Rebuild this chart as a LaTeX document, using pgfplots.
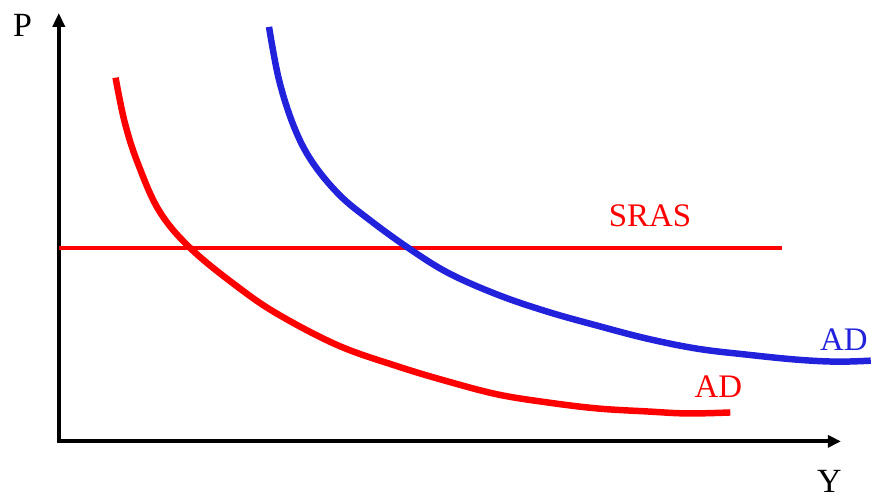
\documentclass[border=0pt]{standalone}
\usepackage{fontspec}
\setmainfont{Liberation Serif}
\usepackage{pgfplots}
\pgfplotsset{compat=1.18}
\usetikzlibrary{arrows.meta}
\definecolor{adblue}{RGB}{34,34,221}
\definecolor{adred}{RGB}{255,0,0}

\begin{document}
\begin{tikzpicture}
\begin{axis}[
    scale only axis,
    width=874pt, height=502pt,
    xmin=0, xmax=874, ymin=0, ymax=502,
    y dir=reverse,
    hide axis, clip=false,
]
% frame for bounding box
\addplot[draw=none] coordinates {(0,0) (874,502)};

% axes
\addplot[black, line width=4pt, -{Triangle[length=14pt,width=12pt]}] coordinates {(59,443) (59,13)};
\addplot[black, line width=4pt, -{Triangle[length=13pt,width=12pt]}] coordinates {(57,443) (844,443)};

% SRAS
\addplot[adred, line width=4.5pt] coordinates {(59,249) (785,249)};

% AD (red)
\addplot[adred, line width=6.5pt, smooth, tension=0.6] coordinates {
    (116,78) (125,122) (138,163) (160,212) (192,250) (240,289) (280,316)
    (340,347) (400,368) (450,383) (500,396) (550,404) (600,410) (650,413)
    (690,415) (733,414)};

% AD (blue)
\addplot[adblue, line width=6.5pt, smooth, tension=0.6] coordinates {
    (270,27) (280,80) (295,127) (313,162) (340,195) (370,220) (410,249)
    (450,274) (500,296) (550,313) (600,327) (650,340) (700,350) (750,356)
    (800,361) (840,363) (874,362)};

\node[font=\fontsize{34}{40}\selectfont, anchor=base west, inner sep=0pt] at (axis cs:13,37) {P};
\node[font=\fontsize{34}{40}\selectfont, anchor=base west, inner sep=0pt] at (axis cs:820,494) {Y};
\node[adred, font=\fontsize{33}{40}\selectfont, anchor=base west, inner sep=0pt] at (axis cs:611,227) {SRAS};
\node[adred, font=\fontsize{33}{40}\selectfont, anchor=base west, inner sep=0pt] at (axis cs:697,399) {AD};
\node[adblue, font=\fontsize{33}{40}\selectfont, anchor=base west, inner sep=0pt] at (axis cs:823,352) {AD};
\end{axis}
\end{tikzpicture}
\end{document}
